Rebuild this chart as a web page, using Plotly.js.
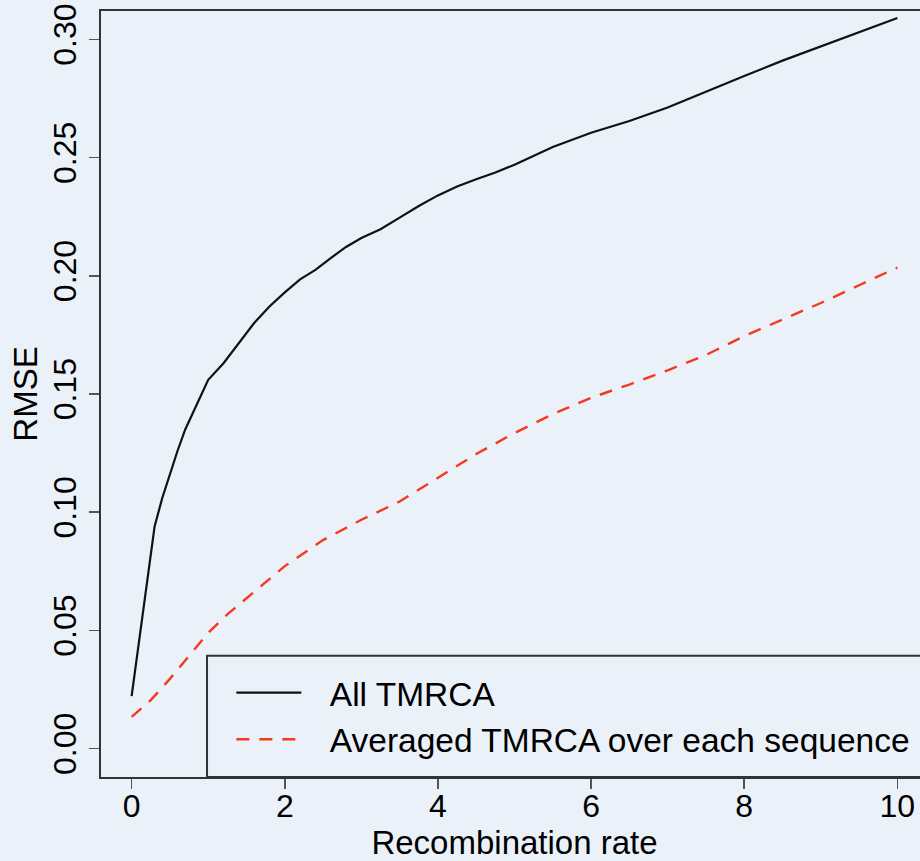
<!DOCTYPE html>
<html>
<head>
<meta charset="utf-8">
<script src="https://cdn.plot.ly/plotly-3.0.1.min.js"></script>
<style>
  html, body { margin: 0; padding: 0; overflow: hidden; background: #EBF1F9; }
  #chart { width: 930px; height: 861px; }
</style>
</head>
<body>
<div id="chart"></div>
<script>
// Recombination rate (x) and RMSE values
const allX = [0, 0.3, 0.4, 0.5, 0.6, 0.7, 0.8, 0.9, 1.0, 1.2, 1.4, 1.6, 1.8, 2.0, 2.2, 2.4, 2.6, 2.8, 3.0, 3.25, 3.5, 3.75, 4.0, 4.25, 4.5, 4.75, 5.0, 5.5, 6.0, 6.5, 7.0, 7.5, 8.0, 8.5, 9.0, 9.5, 10.0];
const allTMRCA = [0.0222, 0.094, 0.106, 0.1165, 0.126, 0.135, 0.142, 0.149, 0.156, 0.163, 0.1715, 0.180, 0.187, 0.193, 0.1985, 0.2025, 0.2075, 0.2122, 0.216, 0.2197, 0.2246, 0.2295, 0.234, 0.2378, 0.2408, 0.2437, 0.247, 0.2545, 0.2605, 0.2655, 0.2712, 0.278, 0.2845, 0.291, 0.297, 0.303, 0.309];

const avgX = [0, 0.25, 0.5, 0.75, 1.0, 1.25, 1.5, 1.75, 2.0, 2.5, 3.0, 3.5, 4.0, 4.5, 5.0, 5.5, 6.0, 6.5, 7.0, 7.5, 8.0, 8.5, 9.0, 9.5, 10.0];
const avgTMRCA = [0.0134, 0.0205, 0.0295, 0.0395, 0.049, 0.0568, 0.0635, 0.0705, 0.0772, 0.0882, 0.0968, 0.1045, 0.1145, 0.1246, 0.1335, 0.1415, 0.1484, 0.154, 0.160, 0.1665, 0.1745, 0.1815, 0.1885, 0.196, 0.2035];

const seriesNames = ["All TMRCA", "Averaged TMRCA over each sequence"];
const xTicks = [0, 2, 4, 6, 8, 10];
const yTicks = [0, 0.05, 0.10, 0.15, 0.20, 0.25, 0.30];
const yTickText = ["0.00", "0.05", "0.10", "0.15", "0.20", "0.25", "0.30"];

const FONT = '"Liberation Sans", Arial, Helvetica, sans-serif';
const BG = '#EBF1F9';
const GAP = '\u2002\u2009'; // visual gap between legend sample and its label

const traces = [
  {
    x: allX, y: allTMRCA, name: GAP + seriesNames[0], type: 'scatter', mode: 'lines',
    line: { color: '#111111', width: 2.2 }
  },
  {
    x: avgX, y: avgTMRCA, name: GAP + seriesNames[1], type: 'scatter', mode: 'lines',
    line: { color: '#F5391F', width: 2.4, dash: '13px,10px' }
  }
];

const layout = {
  width: 930, height: 861,
  paper_bgcolor: BG, plot_bgcolor: BG,
  margin: { l: 101, r: 2, t: 11, b: 84 },
  font: { family: FONT, size: 33, color: '#000000' },
  showlegend: true,
  legend: {
    x: 0.1576, y: 0.147, xanchor: 'left', yanchor: 'top',
    bgcolor: 'rgba(0,0,0,0)', borderwidth: 0,
    font: { family: FONT, size: 33.5, color: '#000000' },
    itemwidth: 65, tracegroupgap: 0
  },
  xaxis: {
    range: [-0.4, 10.4], tickmode: 'array', tickvals: xTicks,
    ticks: 'outside', ticklen: 10, tickwidth: 1.5, tickcolor: '#555555',
    ticklabelstandoff: -10,
    showline: true, linecolor: '#333333', linewidth: 2, mirror: true,
    showgrid: false, zeroline: false,
    tickfont: { family: FONT, size: 32, color: '#000000' },
    title: { text: 'Recombination rate', font: { family: FONT, size: 33 }, standoff: 0 }
  },
  yaxis: {
    range: [-0.012, 0.312], tickmode: 'array', tickvals: yTicks, ticktext: yTickText,
    tickangle: -90,
    ticks: 'outside', ticklen: 10, tickwidth: 1.5, tickcolor: '#555555',
    showline: true, linecolor: '#333333', linewidth: 2, mirror: true,
    showgrid: false, zeroline: false,
    tickfont: { family: FONT, size: 32, color: '#000000' },
    title: { text: 'RMSE', font: { family: FONT, size: 33 }, standoff: 0 }
  },
  shapes: [
    {
      type: 'rect', xref: 'paper', yref: 'paper',
      x0: 0.1282, x1: 1.0, y0: 0, y1: 0.1584,
      line: { color: '#333333', width: 2 }, fillcolor: 'rgba(0,0,0,0)', layer: 'above'
    }
  ]
};

Plotly.newPlot('chart', traces, layout, { displayModeBar: false, staticPlot: true });
</script>
</body>
</html>
